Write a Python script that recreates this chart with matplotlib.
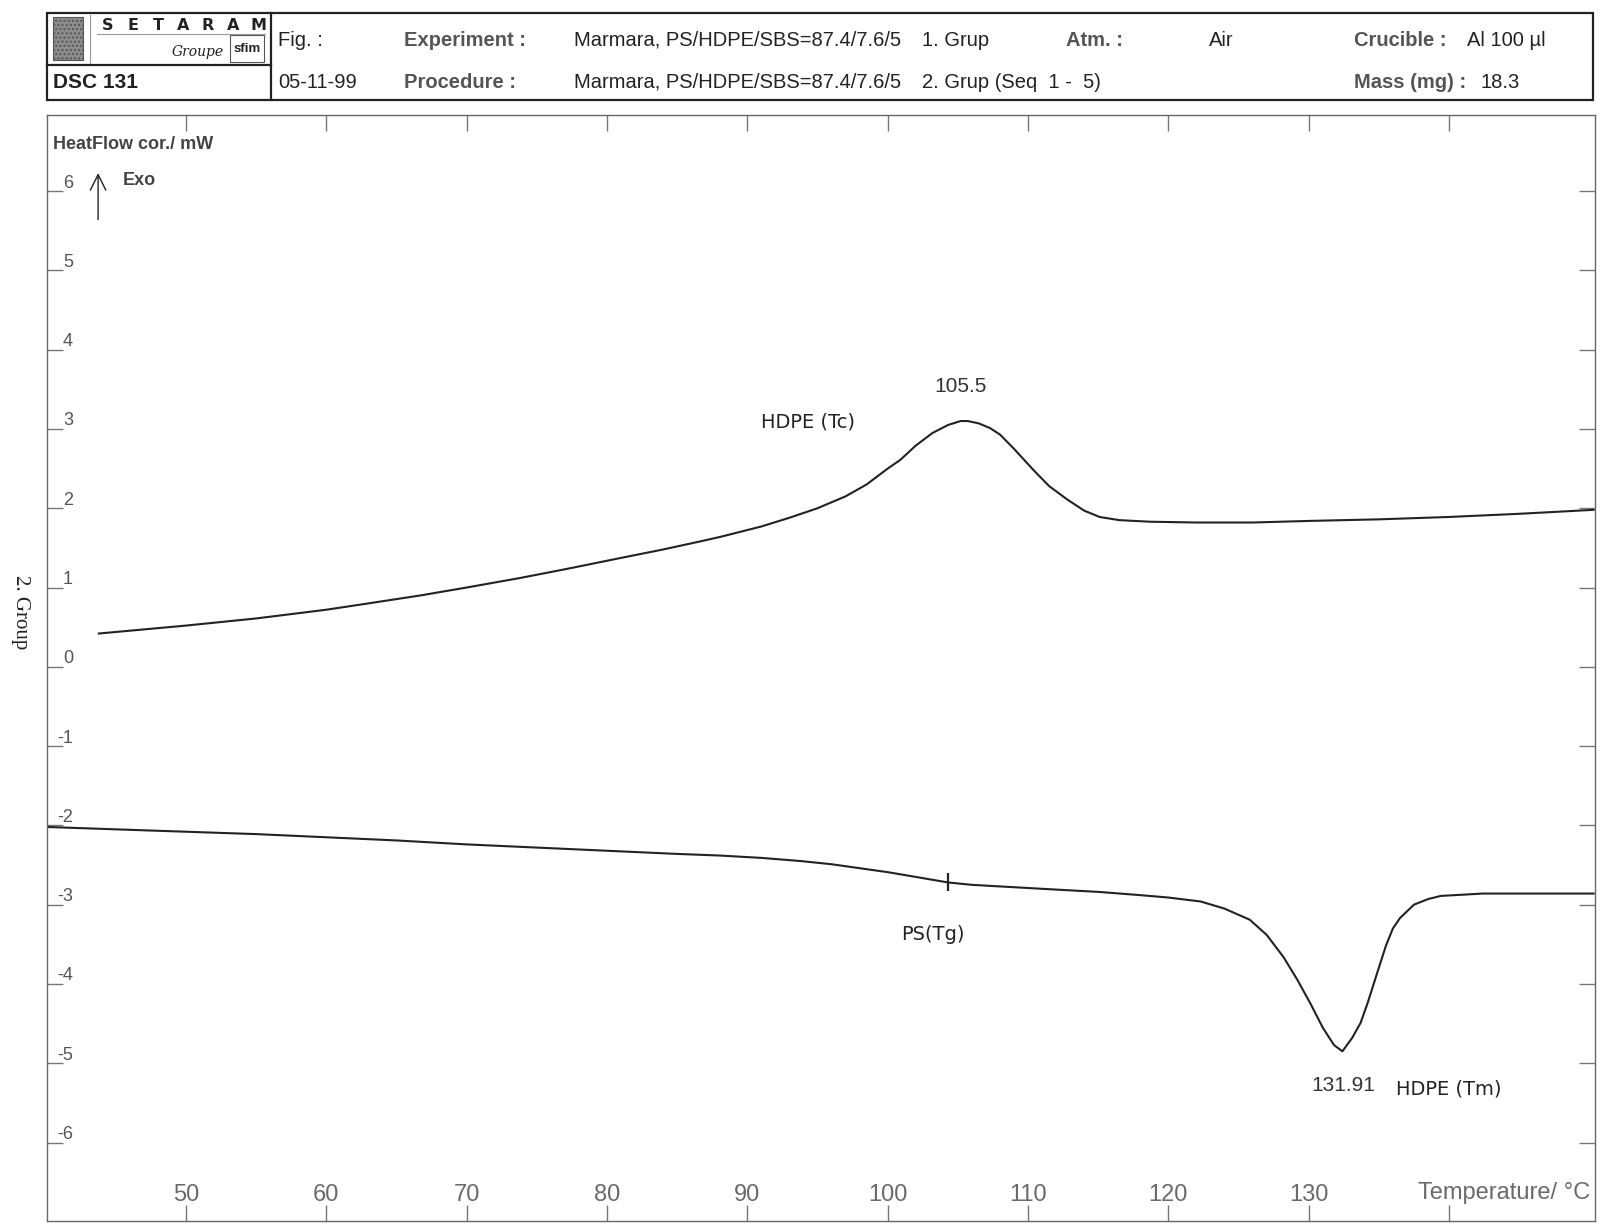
"""DSC 131 热流曲线 (SETARAM 扫描图复刻)"""

import matplotlib
matplotlib.use("Agg")
import matplotlib.pyplot as plt
from matplotlib.patches import Rectangle
from matplotlib.transforms import ScaledTranslation

# ── 数据 ──────────────────────────────────────────────
# 上曲线 (冷却, HDPE 结晶峰)
cool_temp = [43.8, 50, 55, 60, 63, 66.7, 70, 73.8, 77, 80.9, 84, 86.6, 88.1, 91,
             93, 95, 97, 98.5, 100, 100.9, 102, 103.2, 104.3, 105.2, 105.7,
             106.5, 107.3, 108, 109, 110.4, 111.5, 112.8, 114, 115.1, 116.5,
             118.7, 122, 126, 130, 135, 140, 145, 150.3]
cool_heat = [0.42, 0.52, 0.61, 0.72, 0.80, 0.90, 1.00, 1.12, 1.23, 1.37, 1.48,
             1.58, 1.64, 1.77, 1.88, 2.00, 2.15, 2.30, 2.50, 2.61, 2.79, 2.95,
             3.05, 3.10, 3.10, 3.07, 3.01, 2.93, 2.75, 2.48, 2.28, 2.11, 1.97,
             1.89, 1.85, 1.83, 1.82, 1.82, 1.84, 1.86, 1.89, 1.93, 1.98]

# 下曲线 (加热, PS 玻璃化 + HDPE 熔融峰)
heat_temp = [40.1, 45, 50, 55, 60, 65, 70, 75, 80, 85, 88, 91, 93.8, 96, 98,
             100, 102, 104.3, 106, 108, 111, 115.1, 118, 120, 122.3, 124, 125.8,
             127, 128.2, 129.2, 130.1, 131, 131.8, 132.4, 133.1, 133.7, 134.2,
             134.9, 135.5, 136, 136.5, 137.5, 138.5, 139.4, 142.4, 146, 150.3]
heat_heat = [-2.02, -2.05, -2.08, -2.11, -2.15, -2.19, -2.24, -2.28, -2.32,
             -2.36, -2.38, -2.41, -2.45, -2.49, -2.54, -2.59, -2.65, -2.72,
             -2.75, -2.77, -2.80, -2.84, -2.88, -2.91, -2.96, -3.05, -3.19,
             -3.38, -3.66, -3.95, -4.24, -4.55, -4.77, -4.85, -4.68, -4.49,
             -4.24, -3.85, -3.52, -3.30, -3.17, -3.00, -2.93, -2.89, -2.86,
             -2.86, -2.86]

x_ticks = [50, 60, 70, 80, 90, 100, 110, 120, 130, 140]
x_tick_labels = ["50", "60", "70", "80", "90", "100", "110", "120", "130", ""]
y_ticks = [-6, -5, -4, -3, -2, -1, 0, 1, 2, 3, 4, 5, 6]
y_tick_labels = [str(v) for v in y_ticks]

# 标注 (温度, 热流)
TG_POINT = (104.3, -2.72)
TC_VALUE = ("105.5", 105.2, 3.54)
TM_VALUE = ("131.91", 132.5, -5.28)
NOTES = [("HDPE (Tc)", 94.3, 3.09), ("PS(Tg)", 103.2, -3.38), ("HDPE (Tm)", 140.0, -5.33)]

# 表头文字 (像素坐标 x, 行)
HEADER_ROW1 = [("Fig. :", 278, "normal"), ("Experiment :", 404, "bold"),
               ("Marmara, PS/HDPE/SBS=87.4/7.6/5", 574, "normal"),
               ("1. Grup", 922, "normal"), ("Atm. :", 1066, "bold"),
               ("Air", 1209, "normal"), ("Crucible :", 1354, "bold"),
               ("Al 100 µl", 1467, "normal")]
HEADER_ROW2 = [("05-11-99", 278, "normal"), ("Procedure :", 404, "bold"),
               ("Marmara, PS/HDPE/SBS=87.4/7.6/5", 574, "normal"),
               ("2. Grup (Seq  1 -  5)", 922, "normal"),
               ("Mass (mg) :", 1354, "bold"), ("18.3", 1480, "normal")]

W, H = 1601, 1229
DPI = 100
INK = "#222222"
GREY = "#6a6a6a"
SANS = ["Liberation Sans", "DejaVu Sans"]
NARROW = ["Liberation Sans Narrow", "Liberation Sans", "DejaVu Sans"]


def px(v: float) -> float:
    """像素 -> 点"""
    return v * 72.0 / DPI


def draw_header(fig) -> None:
    """表头框 + 左侧竖排标签"""
    hx = fig.add_axes([0, 0, 1, 1], facecolor="none")
    hx.set_xlim(0, W)
    hx.set_ylim(H, 0)
    hx.axis("off")

    hx.add_patch(Rectangle((47, 13), 1546, 87, fill=False, lw=1.6, ec=INK))
    hx.plot([271, 271], [13, 100], color=INK, lw=1.6)
    hx.plot([47, 271], [65, 65], color=INK, lw=1.6)

    # logo
    hx.add_patch(Rectangle((53, 17), 30, 43, fc="#8c8c8c", ec="#555555",
                           hatch="....", lw=0.8))
    hx.plot([90, 90], [15, 63], color="#999999", lw=0.8)
    for i, ch in enumerate("SETARAM"):
        hx.text(108 + i * 25, 25, ch, fontsize=11.5, fontweight="heavy",
                family=["DejaVu Sans"], ha="center", va="center", color=INK)
    hx.plot([97, 265], [34, 34], color="#999999", lw=0.8)
    hx.text(198, 52, "Groupe", fontsize=10, style="italic",
            family=["DejaVu Serif"], ha="center", va="center", color=INK)
    hx.add_patch(Rectangle((230, 35), 34, 27, fill=False, lw=0.8, ec="#555555"))
    hx.text(247, 49, "sfim", fontsize=9.5, fontweight="bold", family=SANS,
            ha="center", va="center", color=INK)
    hx.text(53, 83, "DSC 131", fontsize=15, fontweight="bold", family=SANS,
            ha="left", va="center", color=INK)

    for row, y in ((HEADER_ROW1, 40), (HEADER_ROW2, 82)):
        for txt, x, weight in row:
            hx.text(x, y, txt, fontsize=14.5, fontweight=weight, family=SANS,
                    ha="left", va="center",
                    color="#555555" if weight == "bold" else INK)

    hx.text(20, 612, "2. Group", fontsize=15, family=["Liberation Serif", "DejaVu Serif"],
            rotation=270, ha="center", va="center", color=INK)


def main() -> None:
    fig = plt.figure(figsize=(W / DPI, H / DPI), dpi=DPI)
    ax = fig.add_axes([47 / W, 8 / H, 1548 / W, 1106 / H])

    ax.plot(cool_temp, cool_heat, color=INK, lw=1.5)
    ax.plot(heat_temp, heat_heat, color=INK, lw=1.5)
    ax.plot(*TG_POINT, marker="|", ms=px(18), mew=1.6, color=INK)

    ax.set_xlim(40.1, 150.4)
    ax.set_ylim(-6.99, 6.96)

    # 刻度: 朝内, 标签在框内
    ax.set_xticks(x_ticks, x_tick_labels, fontsize=17, family=NARROW, color=GREY)
    ax.set_yticks(y_ticks, y_tick_labels, fontsize=13, family=SANS, color=GREY)
    ax.tick_params(axis="x", direction="in", length=px(16), width=1,
                   top=True, pad=-px(37), colors="#777777")
    ax.tick_params(axis="y", direction="in", length=px(16), width=1,
                   right=True, pad=-px(26), colors="#777777")
    for lab in ax.get_xticklabels():
        lab.set_color(GREY)
    for lab in ax.get_yticklabels():
        lab.set_color("#555555")
        lab.set_transform(lab.get_transform() + ScaledTranslation(0, px(10) / 72, fig.dpi_scale_trans))
    for sp in ax.spines.values():
        sp.set_color("#666666")
        sp.set_linewidth(1)

    ax.text(0.004, 0.973, "HeatFlow cor./ mW", transform=ax.transAxes,
            fontsize=13, fontweight="bold", family=SANS, ha="left",
            va="center", color="#444444")
    ax.text(0.049, 0.941, "Exo", transform=ax.transAxes, fontsize=13,
            fontweight="bold", family=SANS, ha="left", va="center",
            color="#444444")
    ax.annotate("", xy=(0.033, 0.95), xytext=(0.033, 0.903),
                xycoords="axes fraction",
                arrowprops=dict(arrowstyle="->", color=INK, lw=1.0,
                                mutation_scale=28))
    ax.text(0.997, 0.0253, "Temperature/ °C", transform=ax.transAxes,
            fontsize=17, family=NARROW, ha="right", va="center", color=GREY)

    for label, t, h in (TC_VALUE, TM_VALUE):
        ax.text(t, h, label, fontsize=15, family=SANS, ha="center",
                va="center", color="#333333")
    for label, t, h in NOTES:
        ax.text(t, h, label, fontsize=14, family=["DejaVu Sans"],
                ha="center", va="center", color=INK)

    draw_header(fig)

    fig.savefig("out.png", dpi=DPI, facecolor="white")
    plt.close(fig)


if __name__ == "__main__":
    main()
